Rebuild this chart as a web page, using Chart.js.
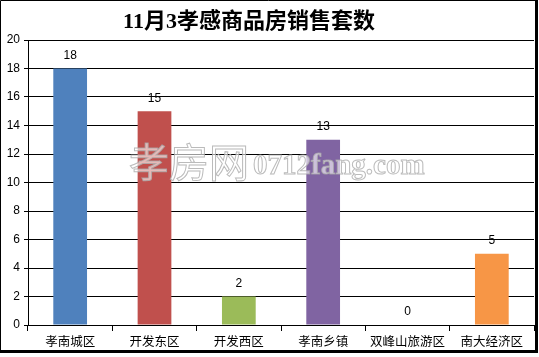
<!DOCTYPE html>
<html>
<head>
<meta charset="utf-8">
<script src="https://cdn.jsdelivr.net/npm/chart.js@4"></script>
<style>
  body { margin: 0; background: #fff; }
  #wrap { width: 539px; height: 357px; position: relative; }
</style>
</head>
<body>
<div id="wrap"><canvas id="salesChart"></canvas></div>
<script>
const titleText = "11月3孝感商品房销售套数";
const watermarkCn = "孝房网";
const watermarkUrl = "0712fang.com";

const labels = ["孝南城区", "开发东区", "开发西区", "孝南乡镇", "双峰山旅游区", "南大经济区"];
const units = [18, 15, 2, 13, 0, 5];
const barColors = ["#4f81bd", "#c0504d", "#9bbb59", "#8064a2", "#4bacc6", "#f79646"];

// white page, title, value labels, watermark and frame
const decor = {
  id: "decor",
  beforeDraw(chart) {
    const ctx = chart.ctx;
    ctx.save();
    ctx.fillStyle = "#fff";
    ctx.fillRect(0, 0, chart.width, chart.height);
    ctx.restore();
  },
  afterDatasetsDraw(chart) {
    const ctx = chart.ctx;
    ctx.save();
    ctx.fillStyle = "#000";
    ctx.font = "12px 'Liberation Sans', sans-serif";
    ctx.textAlign = "center";
    ctx.textBaseline = "middle";
    chart.getDatasetMeta(0).data.forEach((bar, i) => {
      ctx.fillText(units[i], bar.x, bar.y - 13);
    });
    ctx.restore();
  },
  afterDraw(chart) {
    const ctx = chart.ctx;
    ctx.save();
    // title
    ctx.fillStyle = "#000";
    ctx.font = "bold 22px 'Liberation Serif', 'Noto Sans CJK SC', serif";
    ctx.textAlign = "center";
    ctx.textBaseline = "middle";
    ctx.fillText(titleText, 249, 22);

    // watermark
    ctx.textAlign = "left";
    ctx.lineWidth = 1;
    ctx.strokeStyle = "rgba(170,170,170,0.8)";
    ctx.fillStyle = "rgba(255,255,255,0.6)";
    ctx.font = "40px 'Noto Sans CJK SC', sans-serif";
    ctx.textBaseline = "middle";
    ctx.fillText(watermarkCn, 129, 162);
    ctx.strokeText(watermarkCn, 129, 162);
    ctx.font = "bold 29px 'Liberation Serif', serif";
    ctx.textBaseline = "alphabetic";
    ctx.fillText(watermarkUrl, 253, 174);
    ctx.strokeText(watermarkUrl, 253, 174);

    // frame
    ctx.strokeStyle = "#000";
    ctx.lineWidth = 1;
    ctx.beginPath();
    ctx.moveTo(0.5, 353);
    ctx.lineTo(0.5, 0.5);
    ctx.lineTo(536, 0.5);
    ctx.stroke();
    ctx.fillStyle = "#000";
    ctx.fillRect(535, 0, 3, 353);
    ctx.fillRect(0, 350, 538, 3);
    ctx.restore();
  }
};

new Chart(document.getElementById("salesChart"), {
  type: "bar",
  data: {
    labels: labels,
    datasets: [
      {
        data: units,
        backgroundColor: barColors,
        borderWidth: 0,
        barPercentage: 0.4,
        categoryPercentage: 1,
      },
    ],
  },
  options: {
    responsive: true,
    maintainAspectRatio: false,
    animation: false,
    layout: {
      padding: { left: 0, top: 40, right: 5, bottom: 0 },
    },
    plugins: {
      legend: { display: false },
      tooltip: { enabled: false },
    },
    scales: {
      x: {
        afterFit: (scale) => { scale.height = 32; },
        grid: {
          offset: true,
          drawOnChartArea: false,
          color: "#000",
          tickLength: 6,
        },
        border: { color: "#000" },
        ticks: {
          color: "#000",
          padding: 3,
          font: { size: 12.5, family: "'Noto Sans CJK SC', sans-serif" },
          maxRotation: 0,
          autoSkip: false,
        },
      },
      y: {
        min: 0,
        max: 20,
        afterFit: (scale) => { scale.width = 28; },
        grid: {
          color: "#000",
          tickLength: 4,
        },
        border: { color: "#000" },
        ticks: {
          stepSize: 2,
          color: "#000",
          padding: 4,
          font: { size: 12, family: "'Liberation Sans', sans-serif" },
        },
      },
    },
  },
  plugins: [decor],
});
</script>
</body>
</html>
